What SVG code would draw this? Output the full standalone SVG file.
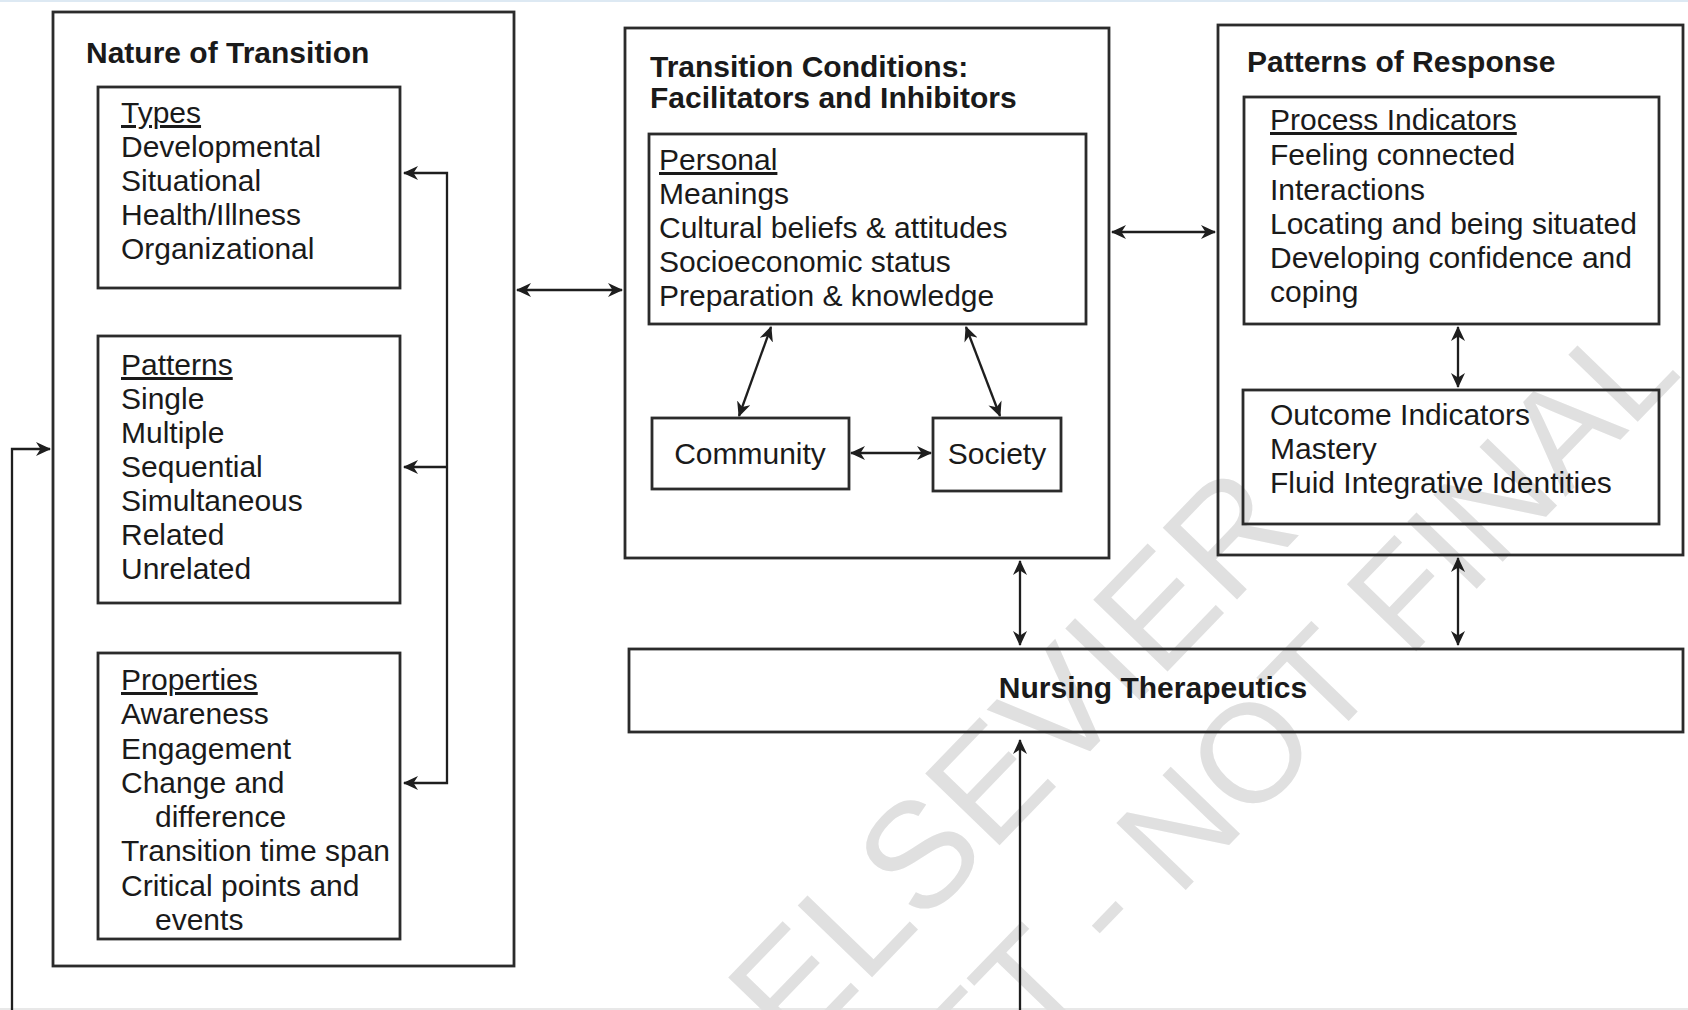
<svg xmlns="http://www.w3.org/2000/svg" width="1688" height="1010" viewBox="0 0 1688 1010">
<style>
  .box { fill: none; stroke: #2b2b2b; stroke-width: 2.8; }
  .t { font-family: "Liberation Sans", Arial, Helvetica, sans-serif; font-size: 30px; fill: #1a1a1a; }
  .b { font-weight: bold; }
  .u { text-decoration: underline; }
  .c { fill: none; stroke: #1e1e1e; stroke-width: 2.3; }
  .wm { font-family: "Liberation Sans", Arial, Helvetica, sans-serif; fill: #e0e0e0; }
</style>
<defs>
  <marker id="ah" viewBox="0 0 15 14" refX="14" refY="7" markerWidth="15" markerHeight="14" markerUnits="userSpaceOnUse" orient="auto-start-reverse">
    <path d="M0,0 L15,7 L0,14 L4.5,7 z" fill="#1e1e1e"/>
  </marker>
</defs>
<rect x="0" y="0" width="1688" height="1010" fill="#ffffff"/>
<rect x="0" y="0" width="1688" height="2" fill="#dde9f3"/>
<rect x="0" y="1008" width="1688" height="2" fill="#e8e8e8"/>

<g id="watermark" transform="translate(794,1058) rotate(-46)">
  <text class="wm" x="0" y="0" font-size="150">ELSEVIER</text>
  <text class="wm" x="-207" y="165" font-size="140">DRAFT - NOT FINAL</text>
</g>

<g id="nature-of-transition">
  <rect class="box" x="53" y="12" width="461" height="954"/>
  <text class="t b" x="86" y="63">Nature of Transition</text>
</g>
<g id="types">
  <rect class="box" x="98" y="87" width="302" height="201"/>
  <text class="t u" x="121" y="123">Types</text>
  <text class="t" x="121" y="157">Developmental</text>
  <text class="t" x="121" y="191">Situational</text>
  <text class="t" x="121" y="225">Health/Illness</text>
  <text class="t" x="121" y="259">Organizational</text>
</g>
<g id="patterns">
  <rect class="box" x="98" y="336" width="302" height="267"/>
  <text class="t u" x="121" y="375">Patterns</text>
  <text class="t" x="121" y="409">Single</text>
  <text class="t" x="121" y="443">Multiple</text>
  <text class="t" x="121" y="477">Sequential</text>
  <text class="t" x="121" y="511">Simultaneous</text>
  <text class="t" x="121" y="545">Related</text>
  <text class="t" x="121" y="579">Unrelated</text>
</g>
<g id="properties">
  <rect class="box" x="98" y="653" width="302" height="286"/>
  <text class="t u" x="121" y="690">Properties</text>
  <text class="t" x="121" y="724">Awareness</text>
  <text class="t" x="121" y="759">Engagement</text>
  <text class="t" x="121" y="793">Change and</text>
  <text class="t" x="155" y="827">difference</text>
  <text class="t" x="121" y="861">Transition time span</text>
  <text class="t" x="121" y="896">Critical points and</text>
  <text class="t" x="155" y="930">events</text>
</g>

<g id="transition-conditions">
  <rect class="box" x="625" y="28" width="484" height="530"/>
  <text class="t b" x="650" y="77">Transition Conditions:</text>
  <text class="t b" x="650" y="108">Facilitators and Inhibitors</text>
</g>
<g id="personal">
  <rect class="box" x="649" y="134" width="437" height="190"/>
  <text class="t u" x="659" y="170">Personal</text>
  <text class="t" x="659" y="204">Meanings</text>
  <text class="t" x="659" y="238">Cultural beliefs &amp; attitudes</text>
  <text class="t" x="659" y="272">Socioeconomic status</text>
  <text class="t" x="659" y="306">Preparation &amp; knowledge</text>
</g>
<g id="community">
  <rect class="box" x="652" y="418" width="197" height="71"/>
  <text class="t" x="750" y="464" text-anchor="middle">Community</text>
</g>
<g id="society">
  <rect class="box" x="933" y="418" width="128" height="73"/>
  <text class="t" x="997" y="464" text-anchor="middle">Society</text>
</g>

<g id="patterns-of-response">
  <rect class="box" x="1218" y="25" width="465" height="530"/>
  <text class="t b" x="1247" y="72">Patterns of Response</text>
</g>
<g id="process-indicators">
  <rect class="box" x="1244" y="97" width="415" height="227"/>
  <text class="t u" x="1270" y="130">Process Indicators</text>
  <text class="t" x="1270" y="165">Feeling connected</text>
  <text class="t" x="1270" y="200">Interactions</text>
  <text class="t" x="1270" y="234">Locating and being situated</text>
  <text class="t" x="1270" y="268">Developing confidence and</text>
  <text class="t" x="1270" y="302">coping</text>
</g>
<g id="outcome-indicators">
  <rect class="box" x="1243" y="390" width="416" height="134"/>
  <text class="t" x="1270" y="425">Outcome Indicators</text>
  <text class="t" x="1270" y="459">Mastery</text>
  <text class="t" x="1270" y="493">Fluid Integrative Identities</text>
</g>

<g id="nursing-therapeutics">
  <rect class="box" x="629" y="649" width="1054" height="83"/>
  <text class="t b" x="1153" y="698" text-anchor="middle">Nursing Therapeutics</text>
</g>

<g id="connectors">
  <path class="c" d="M404,173 H447 V783 H404" marker-start="url(#ah)" marker-end="url(#ah)"/>
  <path class="c" d="M447,467 H404" marker-end="url(#ah)"/>
  <path class="c" d="M517,290 H622" marker-start="url(#ah)" marker-end="url(#ah)"/>
  <path class="c" d="M12,1010 V449 H50" marker-end="url(#ah)"/>
  <path class="c" d="M771,327 L739,416" marker-start="url(#ah)" marker-end="url(#ah)"/>
  <path class="c" d="M966,327 L1000,416" marker-start="url(#ah)" marker-end="url(#ah)"/>
  <path class="c" d="M851,453 H931" marker-start="url(#ah)" marker-end="url(#ah)"/>
  <path class="c" d="M1112,232 H1215" marker-start="url(#ah)" marker-end="url(#ah)"/>
  <path class="c" d="M1458,327 V387" marker-start="url(#ah)" marker-end="url(#ah)"/>
  <path class="c" d="M1458,558 V645" marker-start="url(#ah)" marker-end="url(#ah)"/>
  <path class="c" d="M1020,561 V645" marker-start="url(#ah)" marker-end="url(#ah)"/>
  <path class="c" d="M1020,1010 V740" marker-end="url(#ah)"/>
</g>
</svg>
